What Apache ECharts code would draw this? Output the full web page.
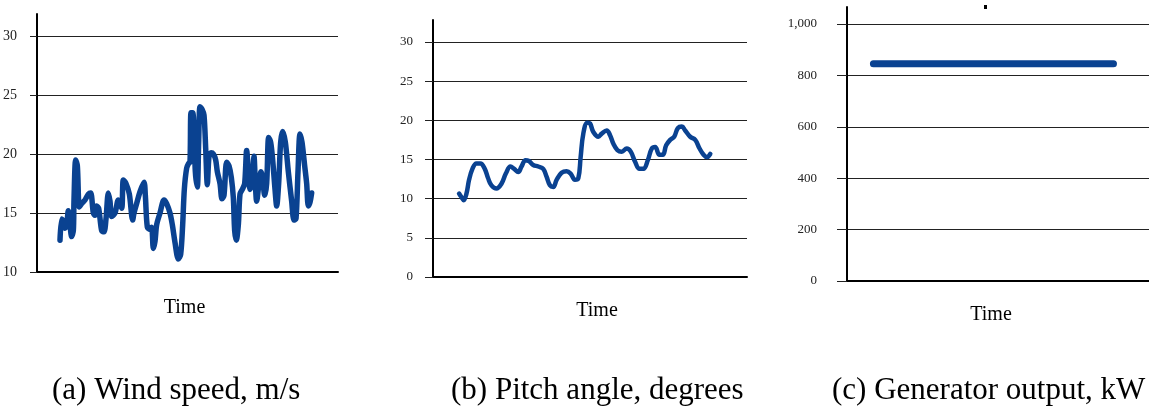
<!DOCTYPE html>
<html><head><meta charset="utf-8">
<script src="https://cdn.jsdelivr.net/npm/echarts@6/dist/echarts.min.js"></script>
<style>html,body{margin:0;padding:0;background:#fff}#c{width:1149px;height:407px}</style>
</head><body><div id="c"></div>
<script>
// (a) Wind speed, m/s
const timeA = [180,185,190,195,200,205,210,215,220,222,227,232,238,245,255,265,272,280,285,290,296,305,312,318,325,330,335,345,355,365,370,378,388,398,402,410,420,432,436,442,450,455,460,465,470,480,492,500,510,517,525,535,542,548,553,560,566,570,573,578,582,586,592,596,600,606,612,617,622,627,633,640,647,652,660,666,672,680,687,694,700,704,709,715,720,727,734,740,745,750,756,762,766,770,777,783,788,794,800,806,812,818,825,830,836,842,848,856,865,875,882,888,894,900,906,914,920,925,930,935];
const windSpeed = [12.7,14.5,14.3,13.7,14.0,15.2,14.0,13.0,13.5,16.1,19.5,19.0,15.5,15.8,16.1,16.6,16.7,15.0,14.8,15.6,15.4,13.5,13.4,14.5,16.7,16.0,14.7,15.0,16.1,15.4,17.8,17.5,16.6,14.4,15.0,15.8,16.8,17.6,16.5,13.8,13.6,13.8,12.0,12.6,14.0,15.0,16.1,15.8,15.0,14.0,12.5,11.1,11.5,14.0,17.0,18.8,19.2,19.3,23.5,23.5,22.0,18.5,17.2,21.0,24.0,23.8,23.3,20.5,17.4,19.8,20.1,20.0,19.5,18.5,17.5,16.2,16.5,19.3,19.0,18.0,16.3,13.5,12.7,14.0,16.6,17.0,17.5,20.3,18.5,17.0,17.5,19.8,17.5,16.0,17.5,18.5,18.0,16.5,17.5,21.4,21.0,19.5,17.0,15.6,17.5,21.0,21.9,21.0,18.5,16.0,14.4,14.5,18.5,21.7,21.0,19.0,17.5,15.6,15.9,16.7];

// (b) Pitch angle, degrees
const timeB = [238,245,252,260,268,278,290,302,315,325,335,350,365,378,392,403,415,425,437,447,460,475,490,500,510,520,530,545,560,572,585,595,602,610,622,630,640,655,665,680,690,700,712,725,740,752,765,778,790,803,815,825,838,848,858,870,882,893,905,915,930,945,958,970,980,990];
const pitchAngle = [10.65,10.2,9.8,10.6,12.4,13.8,14.5,14.5,13.8,12.6,11.7,11.3,11.9,13.2,14.1,13.8,13.4,14.1,14.9,14.8,14.3,14.1,13.8,12.8,11.7,11.5,12.4,13.3,13.5,13.2,12.4,12.6,15.3,18.3,19.7,19.6,18.5,17.9,18.3,18.7,18.1,17.0,16.2,16.0,16.4,16.0,14.7,13.8,13.8,14.9,16.4,16.6,15.6,15.6,16.8,17.5,17.9,19.0,19.2,18.7,17.9,17.5,16.4,15.6,15.3,15.7];

// (c) Generator output, kW
const timeC = [0,1,2,3,4,5,6,7,8,9,10];
const genOutput = [845,845,845,845,845,845,845,845,845,845,845];

const ticksA = [10,15,20,25,30];
const ticksB = [0,5,10,15,20,25,30];
const ticksC = [0,200,400,600,800,1000];

const captions = ['(a) Wind speed, m/s', '(b) Pitch angle, degrees', '(c) Generator output, kW'];

const FONT = '"Liberation Serif", "Times New Roman", serif';
const BLUE = '#0a4291';

function yAx(gi, min, max, interval, ticks, fs, margin, tickLen) {
  return {
    gridIndex: gi, type: 'value', min: min, max: max, interval: interval,
    axisLine: {show: true, onZero: false, lineStyle: {color: '#000', width: 2}},
    axisTick: {show: true, length: tickLen, lineStyle: {color: '#222', width: 1}},
    axisLabel: {
      show: true, margin: margin, color: '#222', fontFamily: FONT, fontSize: fs,
      showMaxLabel: false,
      formatter: v => ticks.indexOf(v) >= 0 ? v.toLocaleString('en-US') : ''
    },
    splitLine: {show: true, showMaxLine: false, lineStyle: {color: '#222', width: 1}}
  };
}
function xAx(gi, min, max, gap, pad) {
  return {
    gridIndex: gi, type: 'value', min: min, max: max,
    axisLine: {show: true, onZero: false, lineStyle: {color: '#000', width: 2}},
    axisTick: {show: false}, axisLabel: {show: false}, splitLine: {show: false},
    name: 'Time', nameLocation: 'middle', nameGap: gap,
    nameTextStyle: {color: '#000', fontFamily: FONT, fontSize: 20, padding: pad}
  };
}
function zip(t, v) { return t.map((x, i) => [x, v[i]]); }

const chart = echarts.init(document.getElementById('c'));
chart.setOption({
  animation: false,
  grid: [
    {left: 37, right: 811, top: 14, bottom: 135},
    {left: 433, right: 402, top: 20, bottom: 130},
    {left: 847, right: 0, top: 7, bottom: 126}
  ],
  xAxis: [
    xAx(0, 111, 1014, 26, [0, 6, 0, 0]),
    xAx(1, 160, 1100, 24, [0, 0, 0, 14]),
    xAx(2, -1.1, 11.48, 24, [0, 14, 0, 0])
  ],
  yAxis: [
    yAx(0, 10, 31.86, 5, ticksA, 14, 20, 7),
    yAx(1, 0, 32.8, 5, ticksB, 13, 20, 8),
    yAx(2, 0, 1066, 200, ticksC, 13, 30, 10)
  ],
  series: [
    {type: 'line', xAxisIndex: 0, yAxisIndex: 0, data: zip(timeA, windSpeed), smooth: 0.3,
     showSymbol: false, lineStyle: {color: BLUE, width: 5.5, cap: 'round', join: 'round'}},
    {type: 'line', xAxisIndex: 1, yAxisIndex: 1, data: zip(timeB, pitchAngle), smooth: 0.4,
     showSymbol: false, lineStyle: {color: BLUE, width: 4.5, cap: 'round', join: 'round'}},
    {type: 'line', xAxisIndex: 2, yAxisIndex: 2, data: zip(timeC, genOutput),
     showSymbol: false, lineStyle: {color: BLUE, width: 7, cap: 'round'}}
  ],
  graphic: [
    {type: 'text', x: 52, y: 391, style: {text: captions[0], font: '31px ' + FONT, fill: '#000', verticalAlign: 'middle'}},
    {type: 'text', x: 451, y: 391, style: {text: captions[1], font: '31px ' + FONT, fill: '#000', verticalAlign: 'middle'}},
    {type: 'text', x: 832, y: 391, style: {text: captions[2], font: '31px ' + FONT, fill: '#000', verticalAlign: 'middle'}},
    {type: 'rect', shape: {x: 984, y: 5, width: 3, height: 4}, style: {fill: '#000'}}
  ]
});
</script>
</body></html>
